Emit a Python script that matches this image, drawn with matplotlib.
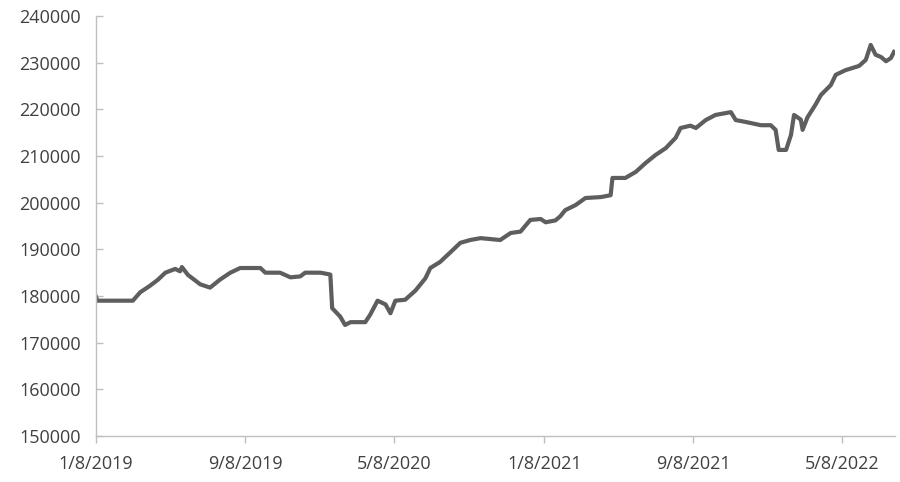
import matplotlib.pyplot as plt
import matplotlib.dates as mdates
import pandas as pd

# values
dates = [
    "2019-01-08", "2019-01-10", "2019-03-09", "2019-03-21", "2019-04-06", "2019-04-19",
    "2019-05-01", "2019-05-17", "2019-05-25", "2019-05-28", "2019-06-07", "2019-06-27",
    "2019-07-13", "2019-07-29", "2019-08-15", "2019-08-31", "2019-10-03", "2019-10-11",
    "2019-11-04", "2019-11-21", "2019-12-07", "2019-12-15", "2020-01-09", "2020-01-25",
    "2020-01-28", "2020-02-10", "2020-02-18", "2020-02-27", "2020-03-22", "2020-03-30",
    "2020-04-11", "2020-04-24", "2020-05-02", "2020-05-10", "2020-05-26", "2020-06-12",
    "2020-06-28", "2020-07-06", "2020-07-22", "2020-08-08", "2020-08-24", "2020-09-09",
    "2020-09-26", "2020-10-28", "2020-11-14", "2020-11-30", "2020-12-16", "2021-01-02",
    "2021-01-10", "2021-01-26", "2021-02-03", "2021-02-11", "2021-02-28", "2021-03-16",
    "2021-04-10", "2021-04-26", "2021-04-29", "2021-05-20", "2021-06-06", "2021-06-22",
    "2021-07-08", "2021-07-25", "2021-08-10", "2021-08-18", "2021-09-03", "2021-09-12",
    "2021-09-28", "2021-10-14", "2021-11-08", "2021-11-16", "2021-12-02", "2021-12-27",
    "2022-01-12", "2022-01-20", "2022-01-25", "2022-02-06", "2022-02-14", "2022-02-19",
    "2022-03-02", "2022-03-05", "2022-03-13", "2022-03-26", "2022-04-04", "2022-04-20",
    "2022-04-28", "2022-05-14", "2022-06-05", "2022-06-16", "2022-06-24", "2022-07-02",
    "2022-07-11", "2022-07-19", "2022-07-27", "2022-08-01",
]
values = [
    179800, 179000, 179000, 180800, 182200, 183500,
    185000, 185800, 185300, 186200, 184500, 182500,
    181800, 183500, 185000, 186000, 186000, 185000,
    185000, 184000, 184200, 185000, 185000, 184600,
    177400, 175600, 173800, 174400, 174400, 176000,
    179000, 178200, 176300, 179000, 179200, 181200,
    183800, 186000, 187300, 189400, 191400, 192000,
    192400, 192000, 193500, 193800, 196300, 196500,
    195800, 196200, 197100, 198400, 199500, 201000,
    201200, 201600, 205300, 205300, 206600, 208500,
    210200, 211700, 213900, 216000, 216500, 216000,
    217700, 218800, 219400, 217700, 217300, 216600,
    216600, 215600, 211300, 211300, 214500, 218800,
    217800, 215600, 218300, 221000, 223100, 225200,
    227400, 228400, 229300, 230600, 233800, 231700,
    231200, 230300, 231000, 232300,
]

y_ticks = list(range(150000, 240001, 10000))
x_ticks = ["2019-01-08", "2019-09-08", "2020-05-08", "2021-01-08", "2021-09-08", "2022-05-08"]

plt.rcParams['font.family'] = ['Open Sans', 'DejaVu Sans']

fig = plt.figure(figsize=(9, 4.82), dpi=100)
ax = fig.add_axes([0.1067, 0.0954, 0.888, 0.8714])

ax.plot(pd.to_datetime(dates), values, color="#5e5e5e", linewidth=3.0,
        solid_joinstyle="round")

ax.set_ylim(150000, 240000)
ax.set_yticks(y_ticks)
ax.set_xlim(pd.Timestamp("2019-01-08"), pd.Timestamp("2022-08-03"))
ax.set_xticks(pd.to_datetime(x_ticks))
ax.xaxis.set_major_formatter(mdates.DateFormatter("%-m/%-d/%Y"))

for side in ["top", "right"]:
    ax.spines[side].set_visible(False)
for side in ["left", "bottom"]:
    ax.spines[side].set_color("#bfbfbf")
    ax.spines[side].set_linewidth(1.0)

ax.tick_params(axis="y", direction="in", length=5, width=1, color="#bfbfbf",
               pad=11, labelsize=13, labelcolor="#404040")
ax.tick_params(axis="x", direction="out", length=5, width=1, color="#bfbfbf",
               pad=9, labelsize=13, labelcolor="#404040")

fig.savefig("out.png", dpi=100)
